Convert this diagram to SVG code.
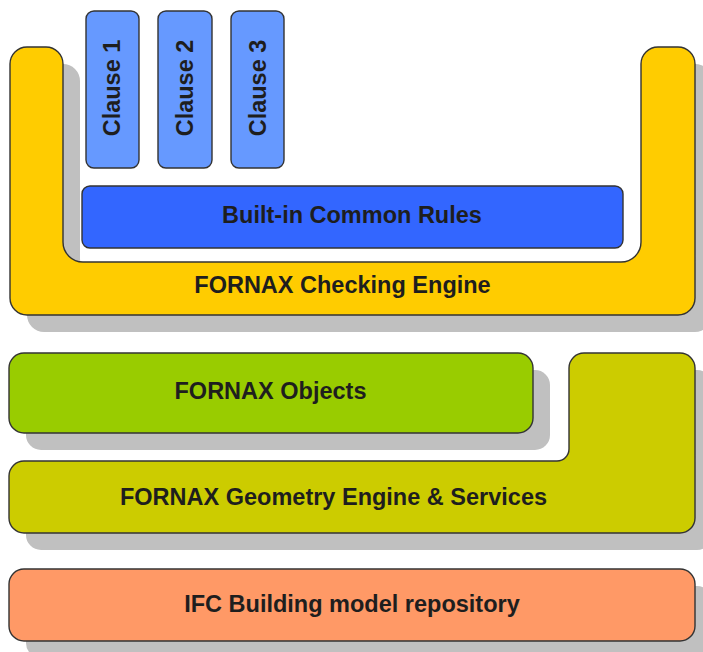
<svg xmlns="http://www.w3.org/2000/svg" width="703" height="652" viewBox="0 0 703 652">
<style>
.sh{fill:#c0c0c0;stroke:none}
.bx{stroke:#333;stroke-width:1.4}
.t{font-family:"Liberation Sans",Arial,sans-serif;font-weight:bold;font-size:23.5px;fill:#1e1e1e;text-anchor:middle}
</style>
<defs>
<path id="uShape" d="M27 47 H46 A17 17 0 0 1 63 64 V242 A20 20 0 0 0 83 262 H621 A20 20 0 0 0 641 242 V64 A17 17 0 0 1 658 47 H678 A17 17 0 0 1 695 64 V298 A17 17 0 0 1 678 315 H27 A17 17 0 0 1 10 298 V64 A17 17 0 0 1 27 47 Z"/>
<path id="gShape" d="M24 461 H557 A12 12 0 0 0 569 449 V368 A15 15 0 0 1 584 353 H680 A15 15 0 0 1 695 368 V518 A15 15 0 0 1 680 533 H24 A15 15 0 0 1 9 518 V476 A15 15 0 0 1 24 461 Z"/>
</defs>
<rect width="703" height="652" fill="#fff"/>
<g id="shadows">
<use href="#uShape" class="sh" transform="translate(17,17)"/>
<rect class="sh" x="26" y="370" width="524" height="80" rx="15"/>
<use href="#gShape" class="sh" transform="translate(17,17)"/>
<rect class="sh" x="26" y="586" width="686" height="72" rx="15"/>
</g>
<g id="checking-engine">
<use href="#uShape" class="bx" fill="#FFCC00"/>
<text class="t" x="342.5" y="293">FORNAX Checking Engine</text>
</g>
<g id="clause1">
<rect class="bx" x="86" y="11" width="53" height="157" rx="8" fill="#6699FF"/>
<text class="t" transform="translate(120,88) rotate(-90)">Clause 1</text>
</g>
<g id="clause2">
<rect class="bx" x="158" y="11" width="54" height="157" rx="8" fill="#6699FF"/>
<text class="t" transform="translate(193,88) rotate(-90)">Clause 2</text>
</g>
<g id="clause3">
<rect class="bx" x="231" y="11" width="53" height="157" rx="8" fill="#6699FF"/>
<text class="t" transform="translate(266,88) rotate(-90)">Clause 3</text>
</g>
<g id="builtin">
<rect class="bx" x="82" y="186" width="541" height="62" rx="8" fill="#3366FF"/>
<text class="t" x="352" y="223">Built-in Common Rules</text>
</g>
<g id="objects">
<rect class="bx" x="9" y="353" width="524" height="80" rx="15" fill="#99CC00"/>
<text class="t" x="270.5" y="399">FORNAX Objects</text>
</g>
<g id="geometry">
<use href="#gShape" class="bx" fill="#CCCC00"/>
<text class="t" x="333.5" y="505">FORNAX Geometry Engine &amp; Services</text>
</g>
<g id="ifc">
<rect class="bx" x="9" y="569" width="686" height="72" rx="15" fill="#FF9966"/>
<text class="t" x="352" y="612">IFC Building model repository</text>
</g>
<g id="connectors"/>
</svg>
